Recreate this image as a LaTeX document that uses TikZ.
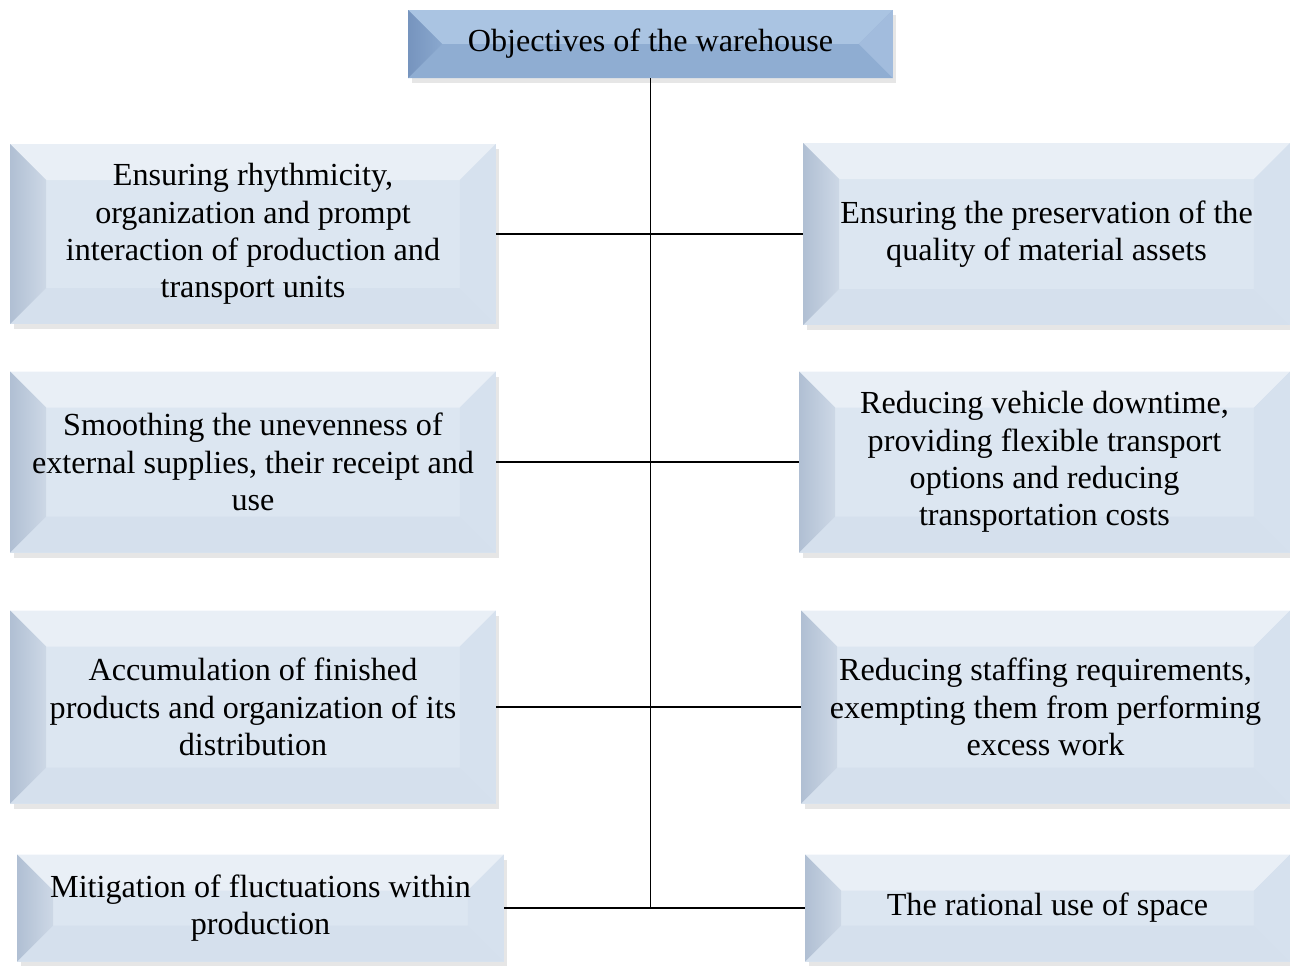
\documentclass[tikz,border=0pt]{standalone}
\usepackage{fontspec}
\setmainfont{Liberation Serif}
\usetikzlibrary{calc, shadows}

\definecolor{sideface}{RGB}{220,230,241}
\definecolor{sideleft}{RGB}{176,191,211}
\definecolor{sideleftin}{RGB}{205,216,230}
\definecolor{sidetop}{RGB}{233,239,246}
\definecolor{sideright}{RGB}{214,225,238}
\definecolor{sidebottom}{RGB}{213,224,237}
\definecolor{headface}{RGB}{149,179,215}
\definecolor{headleft}{RGB}{118,148,190}
\definecolor{headleftin}{RGB}{138,168,206}
\definecolor{headtop}{RGB}{170,196,226}
\definecolor{headright}{RGB}{162,188,221}
\definecolor{headbottom}{RGB}{143,173,210}

\begin{document}
\begin{tikzpicture}[
  x=0.02cm, y=-0.02cm,
  bevel/.store in=\bevsize, bevel=0.72cm,
  facets/.style args={#1/#2/#3/#4/#5}{path picture={
    \coordinate (nw) at (path picture bounding box.north west);
    \coordinate (ne) at (path picture bounding box.north east);
    \coordinate (sw) at (path picture bounding box.south west);
    \coordinate (se) at (path picture bounding box.south east);
    \coordinate (inw) at ($(nw)+(\bevsize,-\bevsize)$);
    \coordinate (ine) at ($(ne)+(-\bevsize,-\bevsize)$);
    \coordinate (isw) at ($(sw)+(\bevsize,\bevsize)$);
    \coordinate (ise) at ($(se)+(-\bevsize,\bevsize)$);
    \fill[#3] (nw) -- (ne) -- (ine) -- (inw) -- cycle;
    \fill[#5] (sw) -- (se) -- (ise) -- (isw) -- cycle;
    \shade[left color=#1, right color=#2] (nw) -- (inw) -- (isw) -- (sw) -- cycle;
    \fill[#4] (ne) -- (ine) -- (ise) -- (se) -- cycle;
  }},
  box/.style={inner sep=0pt, align=center, fill=sideface,
    font=\fontsize{18.3}{21.3}\selectfont,
    drop shadow={shadow xshift=2pt, shadow yshift=-3pt, opacity=0.2},
    facets=sideleft/sideleftin/sidetop/sideright/sidebottom},
  head/.style={box, fill=headface, bevel=0.68cm,
    facets=headleft/headleftin/headtop/headright/headbottom},
  link/.style={line width=1pt}
]
  \useasboundingbox (0,0) rectangle (1290,965);

  % heading
  \node[head, minimum width=9.7cm, minimum height=1.36cm] (goals) at (650.5,44)
    {Objectives of the warehouse};

  % left column
  \node[box, minimum width=9.72cm, minimum height=3.6cm] (rhythm) at (253,234)
    {Ensuring rhythmicity,\\organization and prompt\\interaction of production and\\transport units};
  \node[box, minimum width=9.72cm, minimum height=3.62cm] (smooth) at (253,462)
    {Smoothing the unevenness of\\external supplies, their receipt and\\use};
  \node[box, minimum width=9.72cm, minimum height=3.86cm] (stock) at (253,707)
    {Accumulation of finished\\products and organization of its\\distribution};
  \node[box, minimum width=9.74cm, minimum height=2.14cm] (mitig) at (260.5,908)
    {Mitigation of fluctuations within\\production};

  % right column
  \node[box, minimum width=9.74cm, minimum height=3.64cm] (quality) at (1046.5,234)
    {Ensuring the preservation of the\\quality of material assets};
  \node[box, minimum width=9.82cm, minimum height=3.62cm] (vehicle) at (1044.5,462)
    {Reducing vehicle downtime,\\providing flexible transport\\options and reducing\\transportation costs};
  \node[box, minimum width=9.78cm, minimum height=3.86cm] (staff) at (1045.5,707)
    {Reducing staffing requirements,\\exempting them from performing\\excess work};
  \node[box, minimum width=9.7cm, minimum height=2.14cm] (space) at (1047.5,908)
    {The rational use of space};

  % trunk and branches
  \draw[link] (goals.south) -- (goals.south |- mitig.east);
  \draw[link] (rhythm) -- (quality);
  \draw[link] (smooth) -- (vehicle);
  \draw[link] (stock) -- (staff);
  \draw[link] (mitig) -- (space);
\end{tikzpicture}
\end{document}
